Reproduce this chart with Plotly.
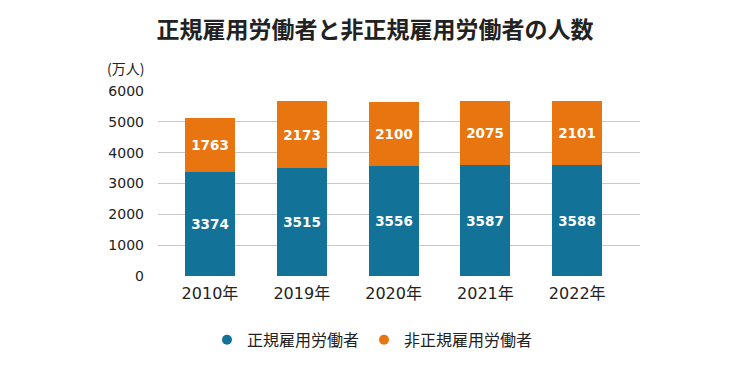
import plotly.graph_objects as go

years = ["2010年", "2019年", "2020年", "2021年", "2022年"]
regular = [3374, 3515, 3556, 3587, 3588]
nonregular = [1763, 2173, 2100, 2075, 2101]
series_names = ["正規雇用労働者", "非正規雇用労働者"]
colors = ["#137298", "#e8750f"]
y_ticks = [0, 1000, 2000, 3000, 4000, 5000, 6000]

FONT = "DejaVu Sans, Noto Sans CJK JP, sans-serif"
CJK = "Noto Sans CJK JP, sans-serif"
x_idx = list(range(len(years)))

fig = go.Figure()
for name, vals, c in zip(series_names, [regular, nonregular], colors):
    fig.add_trace(go.Bar(
        x=x_idx, y=vals, name=name, marker=dict(color=c, line=dict(width=0)),
        width=0.545, text=vals, texttemplate="<b>%{text}</b>",
        textposition="inside", insidetextanchor="middle",
        textfont=dict(color="white", size=13.5, family=FONT),
        showlegend=False, hoverinfo="skip",
    ))
    fig.add_trace(go.Scatter(
        x=[None], y=[None], mode="markers", name=name,
        marker=dict(color=c, size=10, symbol="circle"),
    ))

fig.update_layout(
    barmode="stack",
    width=750, height=367,
    margin=dict(l=158, r=110, t=91, b=91, autoexpand=False),
    paper_bgcolor="white", plot_bgcolor="white",
    font=dict(family=FONT, color="#222222"),
    title=dict(text="<b>正規雇用労働者と非正規雇用労働者の人数</b>",
               x=0.5, xanchor="center", y=0.918, yanchor="middle",
               font=dict(size=23, color="#222222", family=CJK)),
    xaxis=dict(range=[-0.566, 4.684], tickvals=x_idx, ticktext=years,
               showgrid=False, zeroline=False, showline=False,
               tickfont=dict(size=16, color="#222222"), ticks="", ticklen=0,
               ticklabelstandoff=6),
    yaxis=dict(range=[0, 6000], tickvals=y_ticks, showgrid=True,
               gridcolor="#c8c8c8", gridwidth=1, zeroline=False, showline=False,
               tickfont=dict(size=14, color="#222222"), ticks="",
               ticklabelstandoff=13),
    legend=dict(orientation="h", x=0.445, xanchor="center", y=-0.345, yanchor="middle",
                font=dict(size=16, color="#222222", family=CJK),
                traceorder="normal", itemwidth=30, tracegroupgap=0),
    bargap=0,
)
fig.add_annotation(text="(万人)", xref="paper", yref="paper", x=-0.11, y=1.125,
                   xanchor="left", yanchor="middle", showarrow=False,
                   font=dict(size=14, color="#222222", family=CJK))
fig.write_html("out.html", config={"displayModeBar": False},
               post_script="document.body.style.margin='0';document.body.style.padding='0';")
